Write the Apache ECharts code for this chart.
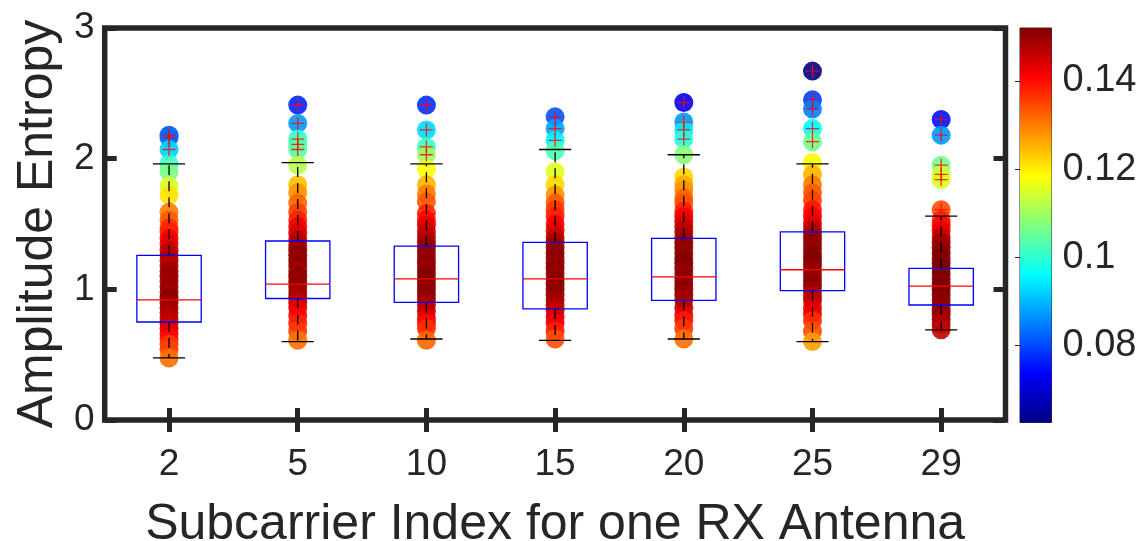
<!DOCTYPE html>
<html><head><meta charset="utf-8">
<script src="https://cdn.jsdelivr.net/npm/echarts@6/dist/echarts.min.js"></script>
<style>html,body{margin:0;padding:0;background:#fff}#c{width:1147px;height:541px}</style>
</head><body><div id="c"></div>
<script>
// ---------------- data ----------------
const categories = ['2', '5', '10', '15', '20', '25', '29'];
const yTicks = [0, 1, 2, 3];
const cbarRange = [0.0625, 0.152];
const cbarTicks = [0.08, 0.1, 0.12, 0.14];
const cbarTickLabels = ['0.08', '0.1', '0.12', '0.14'];
const xTitle = 'Subcarrier Index for one RX Antenna';
const yTitle = 'Amplitude Entropy';

// box statistics: [lower whisker, Q1, median, Q3, upper whisker]
const boxStats = [
  [0.475, 0.75, 0.92, 1.26, 1.96],
  [0.60, 0.93, 1.04, 1.37, 1.97],
  [0.62, 0.90, 1.08, 1.33, 1.96],
  [0.61, 0.85, 1.08, 1.36, 2.07],
  [0.62, 0.915, 1.095, 1.39, 2.03],
  [0.60, 0.99, 1.15, 1.44, 1.96],
  [0.69, 0.88, 1.025, 1.16, 1.56]
];
// outliers ('+' markers)
const outliers = [
  [2.18, 2.16, 2.07],
  [2.41, 2.27, 2.15, 2.11, 2.07],
  [2.41, 2.22, 2.09, 2.03],
  [2.32, 2.23, 2.14],
  [2.43, 2.28, 2.22, 2.15],
  [2.67, 2.45, 2.38, 2.23, 2.13],
  [2.30, 2.18, 1.95, 1.88, 1.84, 1.61]
];
// scatter points per subcarrier: [entropy, colour value]
const pts2 = [[2.18,0.081],[2.16,0.083],[2.07,0.092],[1.96,0.101],[1.90,0.107],[1.79,0.115],[1.72,0.121],[1.59,0.130],[1.53,0.133],[1.47,0.137],[1.44,0.138],[1.39,0.141],[1.35,0.143],[1.30,0.146],[1.26,0.147],[1.22,0.148],[1.18,0.147],[1.14,0.149],[1.10,0.150],[1.06,0.149],[1.02,0.150],[0.98,0.149],[0.94,0.151],[0.90,0.150],[0.86,0.149],[0.82,0.148],[0.78,0.147],[0.74,0.146],[0.70,0.144],[0.66,0.142],[0.62,0.140],[0.58,0.136],[0.54,0.135],[0.475,0.131]];
const pts5 = [[2.41,0.077],[2.27,0.087],[2.15,0.100],[2.11,0.103],[2.07,0.104],[1.95,0.112],[1.80,0.124],[1.74,0.128],[1.66,0.132],[1.59,0.135],[1.53,0.138],[1.48,0.142],[1.43,0.144],[1.38,0.146],[1.34,0.148],[1.30,0.150],[1.26,0.151],[1.22,0.150],[1.18,0.151],[1.14,0.149],[1.10,0.151],[1.06,0.150],[1.02,0.151],[0.98,0.149],[0.94,0.148],[0.90,0.146],[0.86,0.143],[0.80,0.141],[0.74,0.138],[0.68,0.136],[0.61,0.131]];
const pts10 = [[2.41,0.078],[2.22,0.093],[2.09,0.101],[2.03,0.110],[1.92,0.118],[1.80,0.125],[1.73,0.130],[1.67,0.133],[1.58,0.138],[1.53,0.140],[1.49,0.143],[1.44,0.145],[1.40,0.147],[1.36,0.148],[1.32,0.150],[1.28,0.151],[1.24,0.150],[1.20,0.151],[1.16,0.150],[1.12,0.151],[1.08,0.152],[1.04,0.151],[1.00,0.150],[0.96,0.151],[0.92,0.150],[0.88,0.148],[0.83,0.146],[0.78,0.143],[0.74,0.140],[0.70,0.137],[0.61,0.132]];
const pts15 = [[2.32,0.081],[2.23,0.088],[2.14,0.095],[2.06,0.103],[1.90,0.116],[1.80,0.122],[1.72,0.128],[1.66,0.133],[1.61,0.136],[1.56,0.138],[1.50,0.141],[1.45,0.143],[1.40,0.146],[1.36,0.148],[1.32,0.150],[1.28,0.150],[1.24,0.151],[1.20,0.150],[1.16,0.151],[1.12,0.150],[1.08,0.151],[1.04,0.152],[1.00,0.150],[0.96,0.151],[0.92,0.149],[0.88,0.148],[0.84,0.146],[0.79,0.144],[0.74,0.142],[0.68,0.138],[0.62,0.134]];
const pts20 = [[2.43,0.073],[2.28,0.087],[2.22,0.094],[2.15,0.099],[2.03,0.108],[1.86,0.122],[1.80,0.126],[1.76,0.128],[1.70,0.132],[1.66,0.134],[1.60,0.138],[1.56,0.141],[1.52,0.143],[1.48,0.145],[1.44,0.147],[1.40,0.148],[1.36,0.150],[1.32,0.151],[1.28,0.150],[1.24,0.151],[1.20,0.152],[1.16,0.151],[1.12,0.150],[1.08,0.151],[1.04,0.150],[1.00,0.151],[0.96,0.150],[0.92,0.149],[0.86,0.147],[0.80,0.143],[0.76,0.139],[0.70,0.136],[0.62,0.131]];
const pts25 = [[2.67,0.063],[2.45,0.079],[2.38,0.085],[2.23,0.096],[2.13,0.106],[1.97,0.119],[1.88,0.125],[1.80,0.130],[1.74,0.133],[1.68,0.135],[1.61,0.139],[1.56,0.141],[1.51,0.143],[1.47,0.146],[1.43,0.148],[1.39,0.150],[1.35,0.151],[1.31,0.150],[1.27,0.151],[1.23,0.152],[1.19,0.151],[1.15,0.150],[1.11,0.151],[1.07,0.150],[1.03,0.151],[0.99,0.149],[0.95,0.147],[0.915,0.146],[0.86,0.144],[0.81,0.142],[0.76,0.137],[0.68,0.134],[0.60,0.127]];
const pts29 = [[2.30,0.075],[2.18,0.087],[1.95,0.106],[1.88,0.114],[1.84,0.115],[1.61,0.134],[1.53,0.138],[1.49,0.140],[1.45,0.143],[1.40,0.146],[1.36,0.149],[1.32,0.150],[1.28,0.151],[1.24,0.152],[1.20,0.152],[1.16,0.152],[1.12,0.152],[1.08,0.152],[1.04,0.152],[1.00,0.152],[0.96,0.152],[0.92,0.151],[0.88,0.151],[0.84,0.150],[0.81,0.150],[0.77,0.149],[0.73,0.148],[0.69,0.146]];
const pointsByCategory = [pts2, pts5, pts10, pts15, pts20, pts25, pts29];

// ---------------- build ----------------
const jet = ['#000080','#0000FF','#0080FF','#00FFFF','#80FF80','#FFFF00','#FF8000','#FF0000','#800000'];
const FONT = 'Liberation Sans';
const INK = '#262626';

const scatterData = [];
pointsByCategory.forEach((arr, i) => arr.forEach(p => scatterData.push([i, p[0], p[1]])));
const boxData = boxStats.map((s, i) => [i].concat(s));
const outlierData = [];
outliers.forEach((arr, i) => arr.forEach(v => outlierData.push([i, v])));

function renderBox(params, api) {
  const i = api.value(0);
  const lo = api.value(1), q1 = api.value(2), md = api.value(3), q3 = api.value(4), hi = api.value(5);
  const band = api.size([1, 0])[0];
  const bw = band * 0.5, cw = band * 0.25;
  const pLo = api.coord([i, lo]), pQ1 = api.coord([i, q1]), pMd = api.coord([i, md]),
        pQ3 = api.coord([i, q3]), pHi = api.coord([i, hi]);
  const x = pMd[0];
  const dash = { stroke: '#000', lineWidth: 1.3, lineDash: [10, 6] };
  const solid = { stroke: '#000', lineWidth: 1.3 };
  return {
    type: 'group',
    children: [
      { type: 'line', shape: { x1: x, y1: pQ3[1], x2: x, y2: pHi[1] }, style: dash },
      { type: 'line', shape: { x1: x, y1: pQ1[1], x2: x, y2: pLo[1] }, style: dash },
      { type: 'line', shape: { x1: x - cw / 2, y1: pHi[1], x2: x + cw / 2, y2: pHi[1] }, style: solid },
      { type: 'line', shape: { x1: x - cw / 2, y1: pLo[1], x2: x + cw / 2, y2: pLo[1] }, style: solid },
      { type: 'rect', shape: { x: x - bw / 2, y: pQ3[1], width: bw, height: pQ1[1] - pQ3[1] },
        style: { fill: 'none', stroke: '#0000FF', lineWidth: 1.3 } },
      { type: 'line', shape: { x1: x - bw / 2, y1: pMd[1], x2: x + bw / 2, y2: pMd[1] },
        style: { stroke: '#FF0000', lineWidth: 1.3 } }
    ]
  };
}

function renderColorbar(params, api) {
  const top = api.coord([0, api.value(2)]);
  const bot = api.coord([1, api.value(1)]);
  const stops = jet.slice().reverse().map((c, k) => ({ offset: k / (jet.length - 1), color: c }));
  return {
    type: 'rect',
    shape: { x: top[0], y: top[1], width: bot[0] - top[0], height: bot[1] - top[1] },
    style: { fill: new echarts.graphic.LinearGradient(0, 0, 0, 1, stops) }
  };
}

const plusPath = 'path://M9,0 L11,0 L11,9 L20,9 L20,11 L11,11 L11,20 L9,20 L9,11 L0,11 L0,9 L9,9 Z';
const tickStyle = { color: INK, width: 5 };

const option = {
  backgroundColor: '#fff',
  animation: false,
  textStyle: { fontFamily: FONT },
  grid: [
    { left: 104.7, top: 28, width: 900.8, height: 392, show: true, borderColor: INK, borderWidth: 5.5,
      backgroundColor: 'transparent', containLabel: false, outerBoundsMode: 'none' },
    { left: 1020, top: 28, width: 31.5, height: 394.5, show: true, borderColor: '#333', borderWidth: 1,
      backgroundColor: 'transparent', containLabel: false, outerBoundsMode: 'none' }
  ],
  xAxis: [
    { type: 'category', gridIndex: 0, position: 'bottom', data: categories,
      axisLine: { show: false },
      axisTick: { show: true, inside: true, alignWithLabel: true, length: 12, lineStyle: tickStyle },
      axisLabel: { fontSize: 37, color: INK, margin: 26, fontFamily: FONT },
      name: xTitle, nameLocation: 'middle', nameGap: 80,
      nameTextStyle: { fontSize: 50, color: INK, fontFamily: FONT } },
    { type: 'category', gridIndex: 0, position: 'top', data: categories,
      axisLine: { show: false },
      axisTick: { show: true, inside: true, alignWithLabel: true, length: 12, lineStyle: tickStyle },
      axisLabel: { show: false } },
    { type: 'value', gridIndex: 1, min: 0, max: 1, show: false }
  ],
  yAxis: [
    { type: 'value', gridIndex: 0, position: 'left', min: yTicks[0], max: yTicks[yTicks.length - 1], interval: 1,
      axisLine: { show: false }, splitLine: { show: false },
      axisTick: { show: true, inside: true, length: 12, lineStyle: tickStyle },
      axisLabel: { fontSize: 37, color: INK, margin: 10, fontFamily: FONT },
      name: yTitle, nameLocation: 'middle', nameGap: 41,
      nameTextStyle: { fontSize: 50, color: INK, fontFamily: FONT } },
    { type: 'value', gridIndex: 0, position: 'right', min: yTicks[0], max: yTicks[yTicks.length - 1], interval: 1,
      axisLine: { show: false }, splitLine: { show: false },
      axisTick: { show: true, inside: true, length: 12, lineStyle: tickStyle },
      axisLabel: { show: false } },
    { type: 'value', gridIndex: 1, position: 'right', min: cbarRange[0], max: cbarRange[1],
      axisLine: { show: false }, splitLine: { show: false },
      axisTick: { show: true, inside: true, length: 5, lineStyle: { color: INK, width: 1 }, customValues: cbarTicks },
      axisLabel: { fontSize: 38, color: INK, margin: 11, fontFamily: FONT, customValues: cbarTicks,
        formatter: v => { const k = cbarTicks.findIndex(t => Math.abs(t - v) < 1e-6); return k >= 0 ? cbarTickLabels[k] : ''; } } }
  ],
  visualMap: [{
    type: 'continuous', show: false, seriesIndex: 0, dimension: 2,
    min: cbarRange[0], max: cbarRange[1], inRange: { color: jet }
  }],
  series: [
    { type: 'scatter', xAxisIndex: 0, yAxisIndex: 0, data: scatterData, symbol: 'circle', symbolSize: 19,
      itemStyle: { opacity: 0.9 }, z: 2, silent: true },
    { type: 'custom', xAxisIndex: 0, yAxisIndex: 0, data: boxData, renderItem: renderBox,
      encode: { x: 0, y: [1, 2, 3, 4, 5] }, z: 3, silent: true },
    { type: 'scatter', xAxisIndex: 0, yAxisIndex: 0, data: outlierData, symbol: plusPath, symbolSize: 13,
      itemStyle: { color: '#FF0000' }, z: 4, silent: true },
    { type: 'custom', xAxisIndex: 2, yAxisIndex: 2, data: [[0, cbarRange[0], cbarRange[1]]],
      renderItem: renderColorbar, encode: { x: 0, y: [1, 2] }, z: 1, silent: true }
  ]
};

const chart = echarts.init(document.getElementById('c'), null, { renderer: 'canvas' });
chart.setOption(option);
</script></body></html>
